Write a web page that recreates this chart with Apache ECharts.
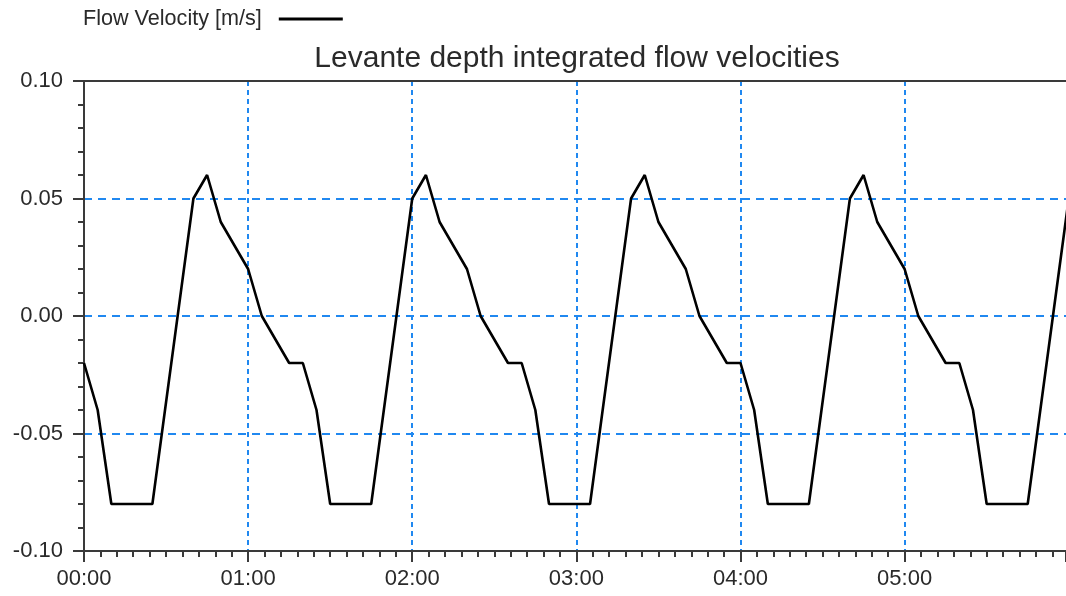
<!DOCTYPE html>
<html>
<head>
<meta charset="utf-8">
<script src="https://cdn.jsdelivr.net/npm/echarts@6/dist/echarts.min.js"></script>
<style>
html,body{margin:0;padding:0;background:#fff;}
#chart{width:1066px;height:596px;}
</style>
</head>
<body>
<div id="chart"></div>
<script>
// Time in minutes since 00:00
const timeMinutes = [
  0, 5, 10, 25, 40, 45, 50, 60, 65, 75,
  80, 85, 90, 105, 120, 125, 130, 140, 145, 155,
  160, 165, 170, 185, 200, 205, 210, 220, 225, 235,
  240, 245, 250, 265, 280, 285, 290, 300, 305, 315,
  320, 325, 330, 345, 360
];
// Flow velocity [m/s]
const flowVelocity = [
  -0.02, -0.04, -0.08, -0.08, 0.05, 0.06, 0.04, 0.02, 0.00, -0.02,
  -0.02, -0.04, -0.08, -0.08, 0.05, 0.06, 0.04, 0.02, 0.00, -0.02,
  -0.02, -0.04, -0.08, -0.08, 0.05, 0.06, 0.04, 0.02, 0.00, -0.02,
  -0.02, -0.04, -0.08, -0.08, 0.05, 0.06, 0.04, 0.02, 0.00, -0.02,
  -0.02, -0.04, -0.08, -0.08, 0.05
];
const xTickLabels = ['00:00', '01:00', '02:00', '03:00', '04:00', '05:00', '06:00'];
const seriesName = 'Flow Velocity [m/s]';
const titleText = 'Levante depth integrated flow velocities';

const FONT = "'Liberation Sans', Arial, sans-serif";
const TEXT = '#2a2a2a';
const AXIS = '#3a3a3a';
const GRIDBLUE = '#2088f0';

const chart = echarts.init(document.getElementById('chart'), null, {renderer: 'canvas'});
chart.setOption({
  animation: false,
  backgroundColor: '#ffffff',
  title: {
    text: titleText,
    left: 577,
    textAlign: 'center',
    top: 44,
    padding: 0,
    textStyle: {fontFamily: FONT, fontSize: 30, fontWeight: 'normal', color: TEXT}
  },
  legend: {
    left: 83,
    top: 8,
    padding: 0,
    align: 'right',
    icon: 'rect',
    itemWidth: 64,
    itemHeight: 3,
    data: [seriesName],
    textStyle: {fontFamily: FONT, fontSize: 21.6, color: TEXT, padding: [0, 12, 0, 0]}
  },
  grid: {
    left: 84,
    right: 0,
    top: 81,
    bottom: 45,
    show: false,
    containLabel: false
  },
  xAxis: [{
    type: 'value',
    min: 0,
    max: 359,
    interval: 60,
    axisLine: {show: true, onZero: false, lineStyle: {color: AXIS, width: 2}},
    axisTick: {show: true, length: 11, lineStyle: {color: AXIS, width: 2}},
    minorTick: {show: true, splitNumber: 10, length: 6, lineStyle: {color: AXIS, width: 2}},
    axisLabel: {
      margin: 17,
      fontFamily: FONT,
      fontSize: 22,
      color: TEXT,
      showMaxLabel: false,
      formatter: function (v) { return xTickLabels[Math.round(v / 60)]; }
    },
    splitLine: {
      show: true,
      showMinLine: false,
      showMaxLine: false,
      lineStyle: {color: GRIDBLUE, width: 2, type: [5, 4]}
    }
  }, {
    type: 'value',
    position: 'top',
    min: 0,
    max: 359,
    axisLine: {show: true, onZero: false, lineStyle: {color: AXIS, width: 2}},
    axisTick: {show: false},
    axisLabel: {show: false},
    splitLine: {show: false}
  }],
  yAxis: {
    type: 'value',
    min: -0.1,
    max: 0.1,
    interval: 0.05,
    axisLine: {show: true, onZero: false, lineStyle: {color: AXIS, width: 2}},
    axisTick: {show: true, length: 11, lineStyle: {color: AXIS, width: 2}},
    minorTick: {show: true, splitNumber: 5, length: 6, lineStyle: {color: AXIS, width: 2}},
    axisLabel: {
      margin: 21,
      fontFamily: FONT,
      fontSize: 22,
      color: TEXT,
      formatter: function (v) { return v.toFixed(2); }
    },
    splitLine: {
      show: true,
      showMinLine: false,
      showMaxLine: false,
      lineStyle: {color: GRIDBLUE, width: 2, type: [8, 6]}
    }
  },
  series: [{
    name: seriesName,
    type: 'line',
    xAxisIndex: 0,
    data: timeMinutes.map((t, i) => [t, flowVelocity[i]]),
    showSymbol: false,
    symbol: 'none',
    color: '#000000',
    lineStyle: {color: '#000000', width: 2.6},
    clip: true
  }]
});
</script>
</body>
</html>
